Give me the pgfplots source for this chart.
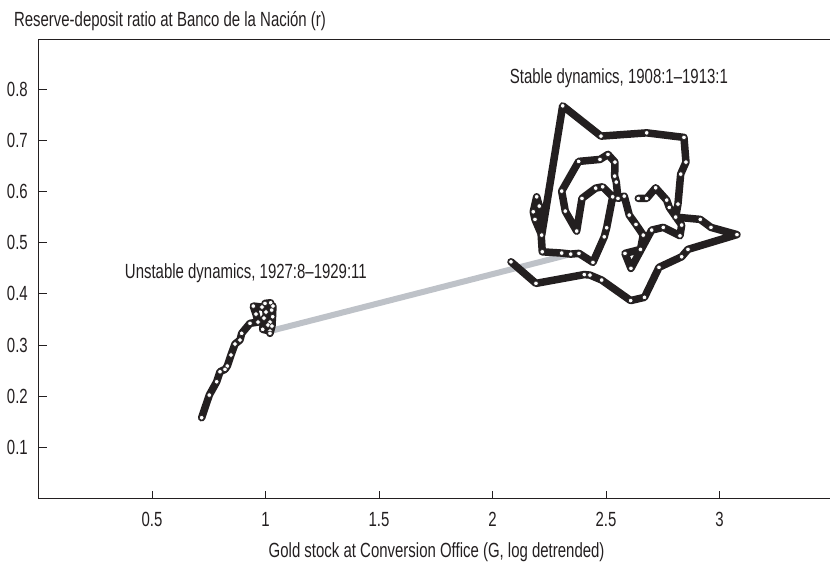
\documentclass[border=0pt]{standalone}
\usepackage{fontspec}
\setmainfont{Liberation Sans}[FakeStretch=0.73]
\usepackage{pgfplots}
\usepackage{pgfplotstable}
\pgfplotsset{compat=1.18}
\definecolor{lineblack}{RGB}{35,31,32}
\definecolor{greyline}{RGB}{190,194,200}
\newcommand\myfont{\fontsize{20.5bp}{24bp}\selectfont}

\pgfplotstableread{
x y
2.0815 0.4627
2.1916 0.4205
2.4044 0.4377
2.4295 0.4367
2.4811 0.4270
2.6088 0.3869
2.6696 0.3932
2.7335 0.4518
2.8335 0.4725
2.8612 0.4869
3.0771 0.5158
2.9626 0.5299
2.9154 0.5455
2.8070 0.5500
2.8172 0.5754
2.8291 0.6340
2.8524 0.6574
2.8436 0.7057
2.6793 0.7146
2.4780 0.7082
2.3093 0.7674
2.2167 0.5148
2.1872 0.5455
2.1797 0.5604
2.1947 0.5896
2.2062 0.5715
2.2194 0.4822
2.3048 0.4797
2.3445 0.4777
2.3811 0.4791
2.4427 0.4615
2.4925 0.5115
2.5031 0.5291
2.5295 0.5896
2.4855 0.6092
2.4546 0.6066
2.3943 0.5865
2.3709 0.5227
2.3207 0.5617
2.3048 0.6008
2.3797 0.6588
2.4736 0.6627
2.5088 0.6725
2.5396 0.6574
2.5383 0.6301
2.5454 0.6184
2.5529 0.5865
2.5806 0.5910
2.6026 0.5539
2.6322 0.5357
2.6643 0.5148
2.6520 0.4869
2.5837 0.4791
2.6101 0.4498
2.7013 0.5246
2.7524 0.5299
2.8260 0.5135
2.8335 0.5344
2.7789 0.5689
2.7674 0.5832
2.7189 0.6072
2.6793 0.5865
2.6423 0.5865
}\stable

\pgfplotstableread{
x y
1.0198 0.3273
0.9877 0.3307
0.9934 0.3527
1.0198 0.3449
1.0317 0.3553
1.0273 0.3684
1.0229 0.3826
0.9978 0.3814
1.0022 0.3645
1.0110 0.3391
1.0198 0.3229
1.0286 0.3371
1.0330 0.3762
0.9846 0.3742
0.9463 0.3762
0.9581 0.3605
0.9670 0.3449
0.9317 0.3424
0.8952 0.3229
0.8877 0.3098
0.8656 0.3020
0.8480 0.2805
0.8317 0.2590
0.8216 0.2525
0.7996 0.2479
0.7850 0.2283
0.7524 0.2023
0.7189 0.1580
}\unstable

\begin{document}
\myfont
\begin{tikzpicture}
\begin{axis}[
  scale only axis, width=791.5bp, height=459.1bp,
  xmin=0, xmax=3.487, ymin=0, ymax=0.897,
  axis x line=bottom, axis y line=left,
  axis line style={-, line width=1.6bp, lineblack},
  xtick={0.5,1,1.5,2,2.5,3},
  ytick={0.1,0.2,0.3,0.4,0.5,0.6,0.7,0.8},
  tick align=inside, major tick length=8bp,
  tick style={line width=0.9bp, lineblack},
  /pgf/number format/assume math mode=true,
  tick label style={font=\myfont, text=lineblack},
  yticklabel style={xshift=-3.7bp, /pgf/number format/fixed},
  xticklabel style={yshift=-6.3bp},
  every axis x label/.style={at={(axis description cs:0.503,0)}, anchor=base, yshift=-58.4bp, font=\myfont, text=lineblack},
  every axis y label/.style={at={(axis description cs:0,1)}, anchor=base west, xshift=-31.5bp, yshift=12.8bp, font=\myfont, text=lineblack},
  xlabel={Gold stock at Conversion Office (G, log detrended)},
  ylabel={Reserve-deposit ratio at Banco de la Nación (r)},
]
\addplot[greyline, line width=6bp, no marks] coordinates {(1.0198,0.3273) (2.33,0.476)};
\addplot[lineblack, line width=7.5bp, line join=round, line cap=round,
  mark=*, mark size=2.3bp, mark options={fill=white, draw=lineblack, line width=0.6bp, solid}]
  table[x=x,y=y] {\stable};
\addplot[lineblack, line width=7.5bp, line join=round, line cap=round,
  mark=*, mark size=2.3bp, mark options={fill=white, draw=lineblack, line width=0.6bp, solid}]
  table[x=x,y=y] {\unstable};
\node[anchor=base west, font=\myfont, text=lineblack] at (axis cs:2.046,0.8117) {Stable dynamics, 1908:1\textendash1913:1};
\node[anchor=base west, font=\myfont, text=lineblack] at (axis cs:0.350,0.4309) {Unstable dynamics, 1927:8\textendash1929:11};
\end{axis}
\draw[line width=1.3bp, lineblack] (current axis.north west) -- (current axis.north east);
\pgfresetboundingbox
\path ([shift={(-38.5bp,-66.4bp)}]current axis.south west) rectangle ([shift={(0bp,39.5bp)}]current axis.north east);
\end{tikzpicture}
\end{document}
